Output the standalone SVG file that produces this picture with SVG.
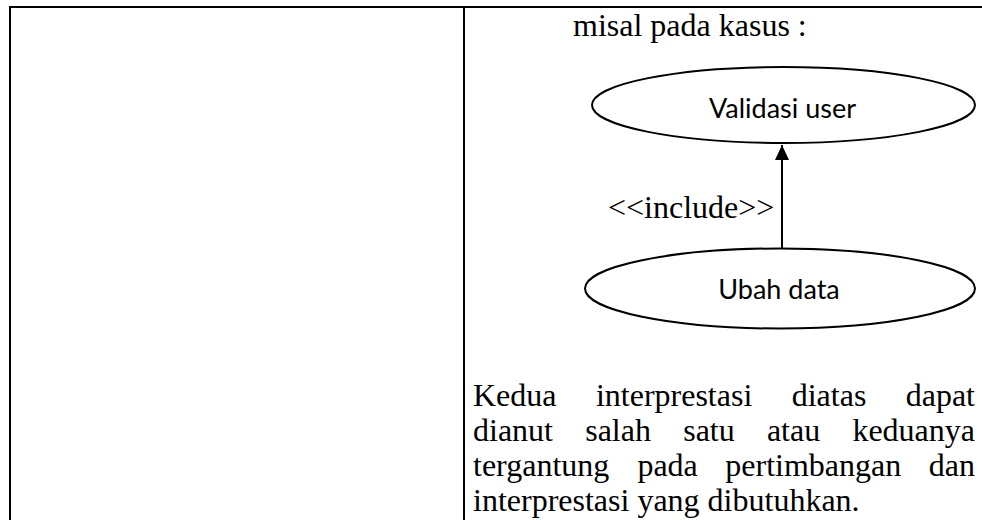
<svg xmlns="http://www.w3.org/2000/svg" width="982" height="520" viewBox="0 0 982 520">
<style>
.border{stroke:#000;stroke-width:2;fill:none}
.uc{fill:#fff;stroke:#000;stroke-width:2}
.ser{font-family:"Liberation Serif","Times New Roman",serif;font-size:32px;fill:#000}
.san{font-family:Lato,"Open Sans",sans-serif;font-size:27px;fill:#000;text-anchor:middle}
.end{text-anchor:end}
</style>
<defs>
<marker id="arr" markerWidth="16" markerHeight="16" refX="15" refY="7" orient="auto" markerUnits="userSpaceOnUse">
<path d="M0,0 L15,7 L0,14 Z" fill="#000"/>
</marker>
</defs>
<g id="table">
<path class="border" d="M9,7 H982 M10,6 V520 M464,7 V520"/>
</g>
<text class="ser" x="573" y="36">misal pada kasus :</text>
<g id="connectors">
<line x1="782" y1="248" x2="782" y2="145" stroke="#000" stroke-width="2" marker-end="url(#arr)"/>
<text class="ser" x="608" y="218">&lt;&lt;include&gt;&gt;</text>
</g>
<g id="validasi">
<ellipse class="uc" cx="783.5" cy="105" rx="191.5" ry="38"/>
<text class="san" x="782.5" y="118">Validasi user</text>
</g>
<g id="ubah">
<ellipse class="uc" cx="780" cy="288.5" rx="195" ry="40"/>
<text class="san" x="779" y="299">Ubah data</text>
</g>
<g id="paragraph">
<text class="ser" y="406"><tspan x="473">Kedua</tspan><tspan x="595.9">interprestasi</tspan><tspan x="791.7">diatas</tspan></text>
<text class="ser end" x="975" y="406">dapat</text>
<text class="ser" y="441"><tspan x="473">dianut</tspan><tspan x="585.2">salah</tspan><tspan x="683.2">satu</tspan><tspan x="766.9">atau</tspan></text>
<text class="ser end" x="975" y="441">keduanya</text>
<text class="ser" y="476"><tspan x="473">tergantung</tspan><tspan x="637.4">pada</tspan><tspan x="725.3">pertimbangan</tspan></text>
<text class="ser end" x="975" y="476">dan</text>
<text class="ser" x="473" y="511">interprestasi yang dibutuhkan.</text>
</g>
</svg>
